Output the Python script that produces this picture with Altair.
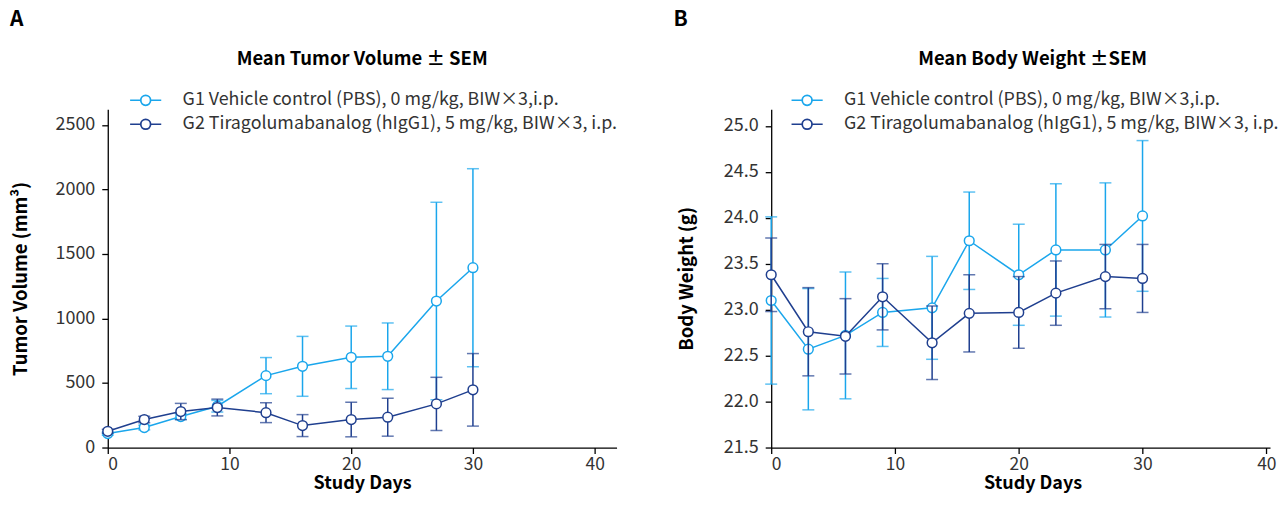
import altair as alt
import pandas as pd

# ---------------- data ----------------
days = [0, 3, 6, 9, 13, 16, 20, 23, 27, 30]
series = ["G1 Vehicle control (PBS), 0 mg/kg, BIW\u00d73,i.p.",
          "G2 Tiragolumabanalog (hIgG1), 5 mg/kg, BIW\u00d73, i.p."]
colors = ["#1aa6ec", "#1f3f8f"]

tv_g1 = [108, 155, 240, 320, 557, 629, 699, 707, 1135, 1393]
tv_g1_sem = [12, 18, 22, 45, 140, 232, 242, 258, 765, 767]
tv_g2 = [126, 217, 279, 310, 270, 170, 217, 235, 338, 447]
tv_g2_sem = [15, 25, 63, 65, 77, 85, 134, 147, 206, 281]

bw_g1 = [23.10, 22.57, 22.72, 22.97, 23.02, 23.75, 23.38, 23.65, 23.65, 24.02]
bw_g1_sem = [0.91, 0.66, 0.69, 0.37, 0.56, 0.53, 0.55, 0.72, 0.73, 0.82]
bw_g2 = [23.38, 22.76, 22.71, 23.14, 22.64, 22.96, 22.97, 23.18, 23.36, 23.34]
bw_g2_sem = [0.40, 0.48, 0.41, 0.36, 0.40, 0.42, 0.39, 0.35, 0.35, 0.37]

tv_ticks = [0, 500, 1000, 1500, 2000, 2500]
bw_ticks = [21.5, 22.0, 22.5, 23.0, 23.5, 24.0, 24.5, 25.0]
x_ticks = [0, 10, 20, 30, 40]

FONT = "Noto Sans CJK SC"
PLOT_H = 339


def make_df(m1, s1, m2, s2):
    rows = []
    for i, d in enumerate(days):
        rows.append({"day": d, "series": series[0], "mean": m1[i], "sem": s1[i]})
        rows.append({"day": d, "series": series[1], "mean": m2[i], "sem": s2[i]})
    return pd.DataFrame(rows)


# legend glyph: line - hollow ring - line (inner circle drawn the other way so it stays unfilled)
SYMBOL = ("M-1.3,0L-0.42,0M0.42,0L1.3,0"
          "M0.42,0A0.42,0.42,0,1,1,-0.42,0A0.42,0.42,0,1,1,0.42,0Z"
          "M0.40,0A0.40,0.40,0,1,0,-0.40,0A0.40,0.40,0,1,0,0.40,0Z")


def panel(df, letter, title, ytitle, ydomain, yticks, yfmt, ytitle_x, width, xmax, title_x,
          legend_x):
    xenc = alt.X("day:Q", scale=alt.Scale(domain=[0, xmax], nice=False, zero=False),
                 axis=alt.Axis(values=x_ticks, title="Study Days", format="d",
                               titleX=title_x, titleY=41, titleBaseline="alphabetic",
                               titleAlign="center"))
    yscale = alt.Scale(domain=ydomain, nice=False, zero=False)
    yaxis = alt.Axis(values=yticks, title=ytitle, format=yfmt,
                     titleX=ytitle_x, titleY=PLOT_H / 2, titleBaseline="middle",
                     titleAngle=-90, titleAlign="center", titleFontSize=18.5)
    color = alt.Color("series:N", scale=alt.Scale(domain=series, range=colors),
                      legend=alt.Legend(title=None, orient="none", legendX=legend_x, legendY=-22,
                                        symbolType=SYMBOL, symbolSize=576,
                                        symbolStrokeWidth=1.5, symbolOpacity=1,
                                        labelOffset=24, rowPadding=2, padding=0,
                                        labelFont=FONT, labelFontSize=17.9,
                                        labelColor="#333333", labelLimit=0))
    base = alt.Chart(df).transform_calculate(
        lo="datum.mean - datum.sem", hi="datum.mean + datum.sem")
    layers = []
    for s in series:
        b = base.transform_filter(alt.datum.series == s)
        layers.append(b.mark_rule(strokeWidth=1.5).encode(
            x=xenc, y=alt.Y("lo:Q", scale=yscale, axis=yaxis), y2="hi:Q", color=color))
        layers.append(b.mark_tick(orient="horizontal", size=12, thickness=1.5).encode(
            x=xenc, y=alt.Y("lo:Q", scale=yscale, axis=yaxis), color=color))
        layers.append(b.mark_tick(orient="horizontal", size=12, thickness=1.5).encode(
            x=xenc, y=alt.Y("hi:Q", scale=yscale, axis=yaxis), color=color))
        layers.append(b.mark_line(strokeWidth=1.5).encode(
            x=xenc, y=alt.Y("mean:Q", scale=yscale, axis=yaxis), color=color))
        layers.append(b.mark_point(shape="circle", filled=False, fill="white", fillOpacity=1,
                                   opacity=1, size=95, strokeWidth=1.5).encode(
            x=xenc, y=alt.Y("mean:Q", scale=yscale, axis=yaxis), color=color))
    title_layer = alt.Chart(pd.DataFrame({"t": [title]})).mark_text(
        font=FONT, fontSize=18.5, fontWeight="bold", color="black",
        align="center", baseline="middle").encode(
        text="t:N", x=alt.value(title_x), y=alt.value(-50))
    letter_layer = alt.Chart(pd.DataFrame({"t": [letter]})).mark_text(
        font=FONT, fontSize=21, fontWeight="bold", color="black",
        align="left", baseline="middle").encode(
        text="t:N", x=alt.value(-98), y=alt.value(-89.5))
    return alt.layer(*layers, title_layer, letter_layer).properties(
        width=width, height=PLOT_H)


dfA = make_df(tv_g1, tv_g1_sem, tv_g2, tv_g2_sem)
dfB = make_df(bw_g1, bw_g1_sem, bw_g2, bw_g2_sem)

chartA = panel(dfA, "A", "Mean Tumor Volume \u00b1 SEM", "Tumor Volume (mm\u00b3)",
               [0, 2620], tv_ticks, "d", -87, 510, 41.8, 255, 25)
chartB = panel(dfB, "B", "Mean Body Weight \u00b1SEM", "Body Weight (g)",
               [21.5, 25.18], bw_ticks, ".1f", -85, 500, 40.3, 262, 23)

chart = alt.hconcat(chartA, chartB, spacing=56).resolve_scale(
    color="independent", x="independent", y="independent"
).resolve_legend(color="independent").properties(
    padding={"left": 2, "top": 0, "right": 0, "bottom": 0}
).configure_view(stroke=None).configure_axis(
    grid=False, domainColor="black", domainWidth=1.3, tickColor="black", tickWidth=1.3,
    tickSize=6, labelFont=FONT, labelFontSize=17.5, labelColor="#333333", labelPadding=2,
    titleFont=FONT, titleFontSize=18, titleFontWeight="bold", titleColor="black"
).configure_axisY(labelPadding=7, labelFontSize=18)

chart.save("out.html", embed_options={"renderer": "svg", "actions": False})
